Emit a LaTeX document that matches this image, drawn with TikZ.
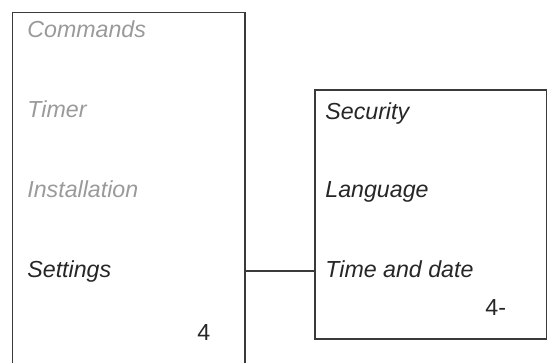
\documentclass[tikz,border=0pt]{standalone}
\usepackage{fontspec}
\setmainfont{Liberation Sans}
\usetikzlibrary{positioning}
\definecolor{dimtext}{HTML}{9A9A9A}
\definecolor{framegray}{HTML}{3A3A3A}
\begin{document}
\begin{tikzpicture}[x=0.5pt,y=-0.5pt,
  frame/.style={draw=framegray,line width=0.6pt},
  entry/.style={anchor=base west,inner sep=0pt,font=\itshape\fontsize{11.6}{14}\selectfont,text=black!85},
  dimentry/.style={entry,text=dimtext},
  pagenum/.style={anchor=base west,inner sep=0pt,font=\fontsize{11.6}{14}\selectfont,text=black!85}]
\useasboundingbox (0,0) rectangle (547,363);
\clip (0,0) rectangle (547,363);
% main menu
\draw[frame] (12.5,380) |- (245,12.5) -- (245,380);
\node[dimentry] (commands) at (27,38) {Commands};
\node[dimentry] (timer) at (27,118) {Timer};
\node[dimentry] (install) at (27,198) {Installation};
\node[entry] (settings) at (27,278) {Settings};
\node[pagenum] (pagemain) at (197,341) {4};
% settings submenu
\draw[frame] (315,90) rectangle (546.7,339);
\node[entry] (security) at (325,120) {Security};
\node[entry] (language) at (325,198) {Language};
\node[entry] (timedate) at (325,278) {Time and date};
\node[pagenum] (pagesub) at (485,316) {4-};
\coordinate (menuedge) at (245,271);
\coordinate (subedge) at (315,271);
\draw[frame] (menuedge) -- (subedge);
\end{tikzpicture}
\end{document}
